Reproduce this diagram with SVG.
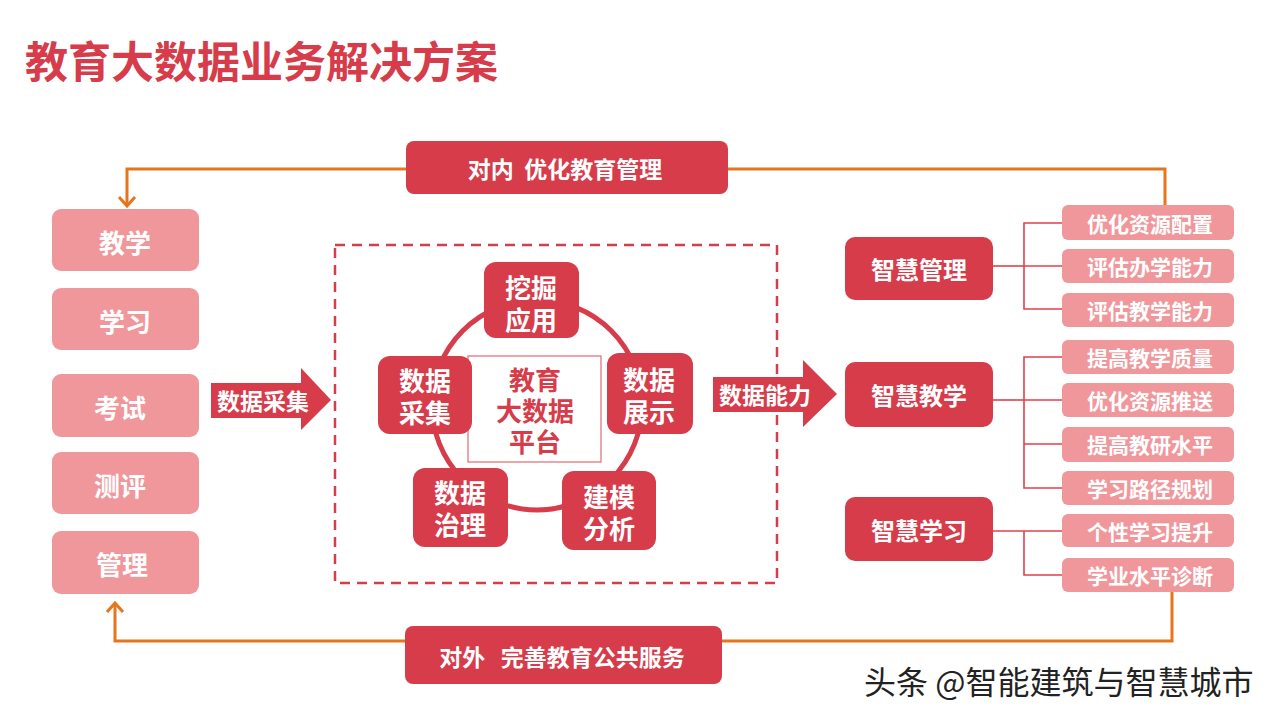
<svg xmlns="http://www.w3.org/2000/svg" width="1280" height="719" viewBox="0 0 1280 719">
<defs>
<style>
.t{font-family:"Noto Sans CJK SC","Noto Sans",sans-serif;font-weight:700;text-anchor:middle;dominant-baseline:central}
.w{fill:#ffffff}
.red{fill:#d63c4a}
.pink{fill:#f0979b}
.or{fill:none;stroke:#e8741c;stroke-width:3}
.ln{fill:none;stroke:#e0404e;stroke-width:1.6}
</style>
</defs>
<rect width="1280" height="719" fill="#ffffff"/>
<text x="25" y="59" class="t" style="text-anchor:start;font-size:43px;fill:#d63c4a">教育大数据业务解决方案</text>

<g id="connectors">
<polyline class="or" points="406,169 127,169 127,205"/>
<path d="M119,197 L127,206 L135,197" fill="none" stroke="#e8741c" stroke-width="3"/>
<polyline class="or" points="728,169 1165,169 1165,205"/>
<polyline class="or" points="405,641 115,641 115,604"/>
<path d="M107,612 L115,603 L123,612" fill="none" stroke="#e8741c" stroke-width="3"/>
<polyline class="or" points="722,641 1172,641 1172,592"/>
<polyline class="ln" points="993,266 1024,266"/>
<polyline class="ln" points="1062,223 1024,223 1024,309 1062,309"/>
<polyline class="ln" points="1024,266 1062,266"/>
<polyline class="ln" points="993,400 1024,400"/>
<polyline class="ln" points="1062,357 1024,357 1024,488 1062,488"/>
<polyline class="ln" points="1024,400 1062,400"/>
<polyline class="ln" points="1024,444 1062,444"/>
<polyline class="ln" points="993,531 1062,531"/>
<polyline class="ln" points="1024,531 1024,575 1062,575"/>
</g>

<g id="top-bar"><rect x="406" y="141" width="322" height="53" rx="8" class="red"/><text x="565" y="168" class="t w" style="font-size:23px" xml:space="preserve">对内  优化教育管理</text></g>
<g id="bottom-bar"><rect x="405" y="626" width="317" height="58" rx="8" class="red"/><text x="562" y="656" class="t w" style="font-size:23px" xml:space="preserve">对外   完善教育公共服务</text></g>

<g id="left-1"><rect x="52" y="209" width="147" height="62" rx="9" class="pink"/><text x="125" y="241" class="t w" style="font-size:26px">教学</text></g>
<g id="left-2"><rect x="52" y="288" width="147" height="62" rx="9" class="pink"/><text x="125" y="320" class="t w" style="font-size:26px">学习</text></g>
<g id="left-3"><rect x="52" y="374" width="147" height="63" rx="9" class="pink"/><text x="120" y="406" class="t w" style="font-size:26px">考试</text></g>
<g id="left-4"><rect x="52" y="452" width="147" height="62" rx="9" class="pink"/><text x="120" y="484" class="t w" style="font-size:26px">测评</text></g>
<g id="left-5"><rect x="52" y="531" width="147" height="63" rx="9" class="pink"/><text x="122" y="563" class="t w" style="font-size:26px">管理</text></g>

<g id="platform-frame">
<rect x="335" y="245" width="442" height="338" fill="none" stroke="#d63c4a" stroke-width="2.5" stroke-dasharray="10,7"/>
<circle cx="537" cy="405" r="105" fill="none" stroke="#d63c4a" stroke-width="5"/>
</g>

<g id="arrow-collect"><polygon points="211,383 301,383 301,368 331,400 301,430 301,418 211,418" class="red"/><text x="263" y="400" class="t w" style="font-size:23px">数据采集</text></g>
<g id="arrow-ability"><polygon points="713,377 803,377 803,360 837,394 803,427 803,412 713,412" class="red"/><text x="765" y="394" class="t w" style="font-size:23px">数据能力</text></g>

<g id="center"><rect x="468" y="356" width="133" height="106" fill="#ffffff" stroke="#e06a74" stroke-width="1.2"/><text class="t" style="font-size:26px;fill:#d63c4a"><tspan x="535" y="378">教育</tspan><tspan x="535" y="409">大数据</tspan><tspan x="535" y="440">平台</tspan></text></g>

<g id="node-mining"><rect x="484" y="262" width="95" height="76" rx="12" class="red"/><text class="t w" style="font-size:26px"><tspan x="531" y="286">挖掘</tspan><tspan x="531" y="318">应用</tspan></text></g>
<g id="node-display"><rect x="607" y="353" width="86" height="81" rx="12" class="red"/><text class="t w" style="font-size:26px"><tspan x="649" y="378">数据</tspan><tspan x="649" y="410">展示</tspan></text></g>
<g id="node-collect"><rect x="378" y="356" width="94" height="78" rx="12" class="red"/><text class="t w" style="font-size:26px"><tspan x="425" y="379">数据</tspan><tspan x="425" y="411">采集</tspan></text></g>
<g id="node-govern"><rect x="413" y="468" width="95" height="79" rx="12" class="red"/><text class="t w" style="font-size:26px"><tspan x="460" y="491">数据</tspan><tspan x="460" y="523">治理</tspan></text></g>
<g id="node-model"><rect x="562" y="471" width="94" height="79" rx="12" class="red"/><text class="t w" style="font-size:26px"><tspan x="609" y="495">建模</tspan><tspan x="609" y="527">分析</tspan></text></g>

<g id="smart-mgmt"><rect x="845" y="237" width="148" height="63" rx="10" class="red"/><text x="919" y="268" class="t w" style="font-size:24px">智慧管理</text></g>
<g id="smart-teach"><rect x="845" y="362" width="148" height="65" rx="10" class="red"/><text x="919" y="394" class="t w" style="font-size:24px">智慧教学</text></g>
<g id="smart-learn"><rect x="845" y="497" width="148" height="64" rx="10" class="red"/><text x="919" y="529" class="t w" style="font-size:24px">智慧学习</text></g>

<g id="sub-1"><rect x="1062" y="205" width="172" height="35" rx="6" class="pink"/><text x="1150" y="223" class="t w" style="font-size:21px">优化资源配置</text></g>
<g id="sub-2"><rect x="1062" y="249" width="172" height="34" rx="6" class="pink"/><text x="1150" y="266" class="t w" style="font-size:21px">评估办学能力</text></g>
<g id="sub-3"><rect x="1062" y="293" width="172" height="34" rx="6" class="pink"/><text x="1150" y="310" class="t w" style="font-size:21px">评估教学能力</text></g>
<g id="sub-4"><rect x="1062" y="340" width="172" height="34" rx="6" class="pink"/><text x="1150" y="357" class="t w" style="font-size:21px">提高教学质量</text></g>
<g id="sub-5"><rect x="1062" y="383" width="172" height="34" rx="6" class="pink"/><text x="1150" y="400" class="t w" style="font-size:21px">优化资源推送</text></g>
<g id="sub-6"><rect x="1062" y="427" width="172" height="35" rx="6" class="pink"/><text x="1150" y="444" class="t w" style="font-size:21px">提高教研水平</text></g>
<g id="sub-7"><rect x="1062" y="471" width="172" height="34" rx="6" class="pink"/><text x="1150" y="488" class="t w" style="font-size:21px">学习路径规划</text></g>
<g id="sub-8"><rect x="1062" y="514" width="172" height="33" rx="6" class="pink"/><text x="1150" y="531" class="t w" style="font-size:21px">个性学习提升</text></g>
<g id="sub-9"><rect x="1062" y="558" width="172" height="34" rx="6" class="pink"/><text x="1150" y="575" class="t w" style="font-size:21px">学业水平诊断</text></g>

<text x="864" y="680" style="font-family:'Noto Sans CJK SC',sans-serif;font-weight:400;font-size:32px;fill:#222;dominant-baseline:central;stroke:#ffffff;stroke-width:0.6;paint-order:stroke">头条 @智能建筑与智慧城市</text>
</svg>
